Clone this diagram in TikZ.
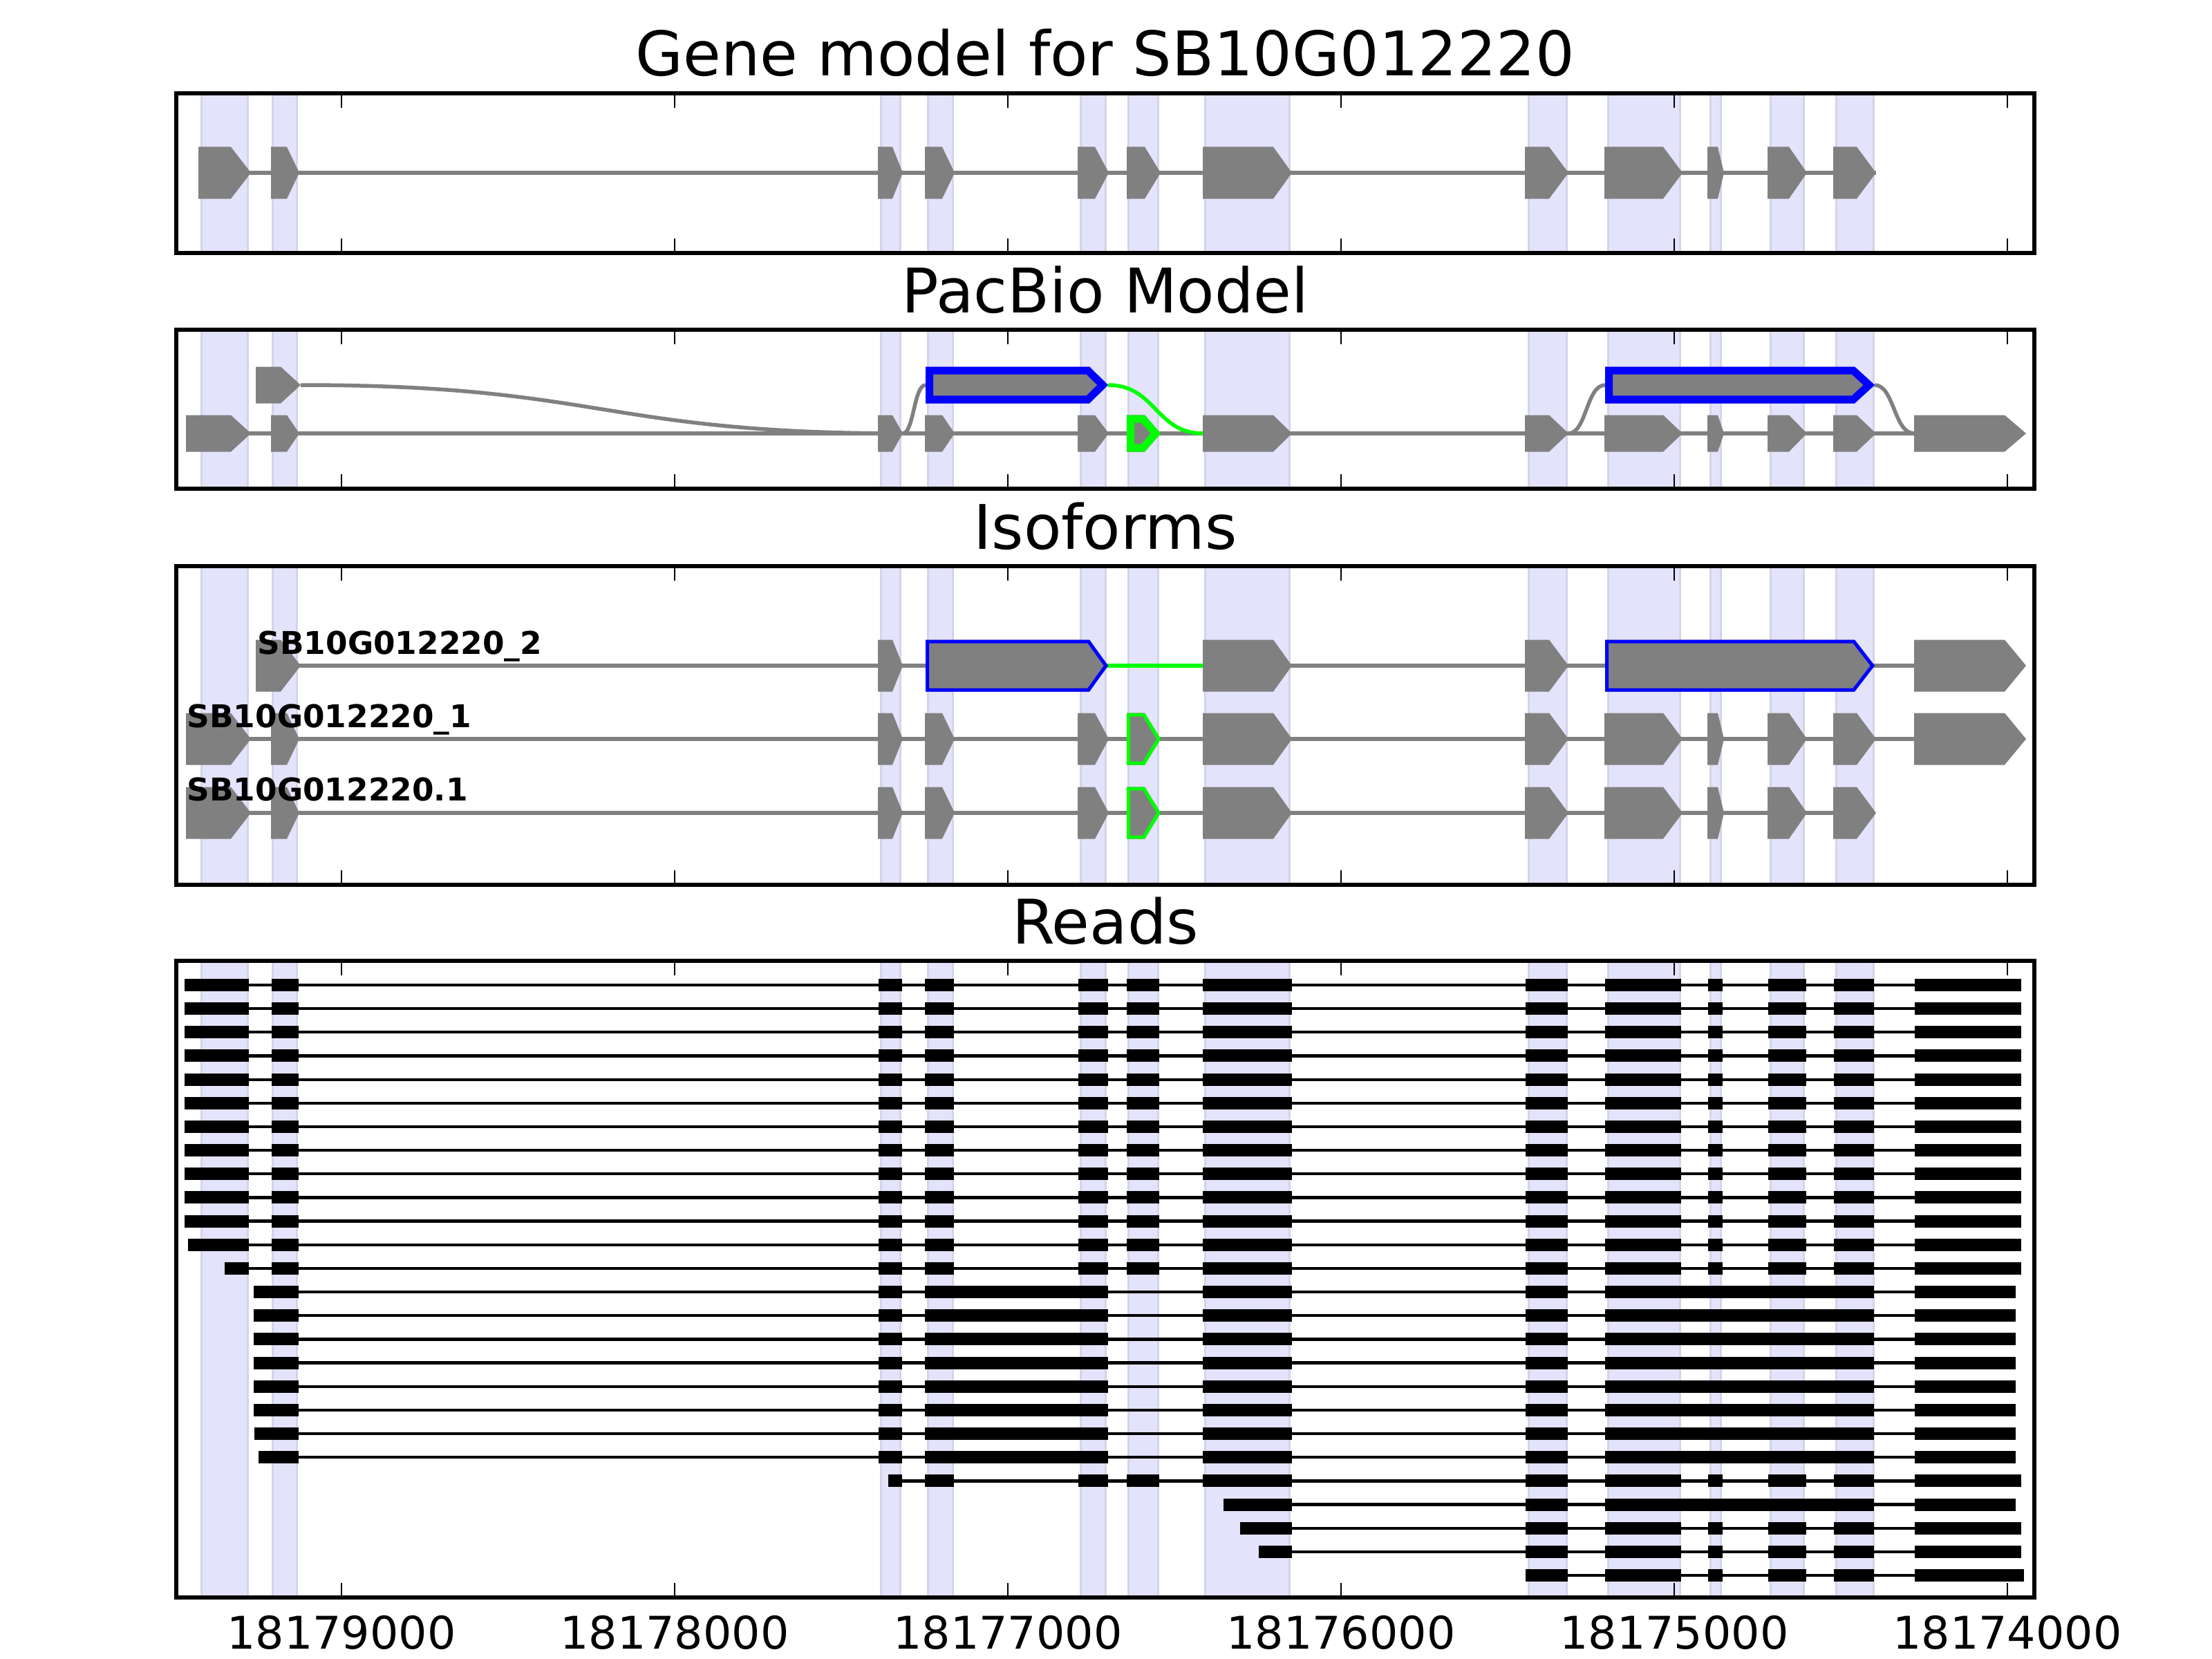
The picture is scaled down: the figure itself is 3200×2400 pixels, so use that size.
\documentclass[tikz,border=0pt]{standalone}
\usepackage{fontspec}
\setmainfont{DejaVu Sans}
\usetikzlibrary{calc}

\definecolor{spanfill}{RGB}{227,227,252}
\definecolor{spanedge}{RGB}{212,212,232}
\definecolor{exongray}{RGB}{128,128,128}
\definecolor{isoblue}{RGB}{0,0,255}
\definecolor{isogreen}{RGB}{0,255,0}

% exon arrow: start, end of box, tip, centre line, half height
\newcommand{\exonpath}[5]{(#1,#4-#5) -- (#2,#4-#5) -- (#3,#4) -- (#2,#4+#5) -- (#1,#4+#5) -- cycle}
\newcommand{\ringexon}[7]{%
  \fill[exongray] \exonpath{#3}{#4}{#5}{#6}{#7};
  \begin{scope}
    \clip \exonpath{#3}{#4}{#5}{#6}{#7};
    \draw[#1, line width=#2, line join=miter] \exonpath{#3}{#4}{#5}{#6}{#7};
  \end{scope}}
\newcommand{\axpanel}[3]{%
  \foreach \xa/\xb in {291/358,394/429,1274/1302,1342/1378,1563/1599,1632/1675,1743/1865,2211/2266,2326/2430,2474/2489,2561/2609,2656/2710}
    \filldraw[spanbox] (\xa,#1) rectangle (\xb,#2);
  \draw[axframe] (255,#1) rectangle (2943,#2);
  \foreach \tk in {0,...,5} {
    \draw[tickmark] (494+482*\tk,#1) -- ++(0,21);
    \draw[tickmark] (494+482*\tk,#2) -- ++(0,-21);
  }
  \node[paneltitle] at (1599,#1-25) {#3};}
% read: row, first block start and end, last end, other blocks
\newcommand{\readrow}[5]{%
  \draw[readline] (#2,1425+34.16*#1) -- (#4,1425+34.16*#1);
  \fill (#2,1416+34.16*#1) rectangle (#3,1434+34.16*#1);
  \foreach \xa/\xb in #5 \fill (\xa,1416+34.16*#1) rectangle (\xb,1434+34.16*#1);}

\def\geneexons{392/415/433,1270/1291/1306,1338/1363/1381,1559/1584/1604,1630/1656/1679,1740/1842/1869,2206/2241/2269,2321/2406/2434,2470/2485/2494,2557/2588/2614,2652/2686/2714}
\def\fullblocks{393/432,1271/1305,1338/1380,1560/1603,1630/1677,1740/1869,2207/2268,2322/2432,2471/2492,2558/2613,2653/2711,2770/2924}
\def\longblocks{1271/1305,1338/1603,1740/1869,2207/2268,2322/2711,2770/2916}
\def\tailblocks{2207/2268,2322/2432,2471/2492,2558/2613,2653/2711,2770/2924}

\begin{document}
\begin{tikzpicture}[x=0.01cm, y=-0.01cm,
  spanbox/.style={fill=spanfill, draw=spanedge, line width=0.3mm},
  axframe/.style={draw=black, line width=0.55mm},
  tickmark/.style={black, line width=0.28mm},
  paneltitle/.style={font=\fontsize{25.3}{30}\selectfont, anchor=base, inner sep=0pt},
  ticklabel/.style={font=\fontsize{18.5}{22}\selectfont, anchor=base, inner sep=0pt},
  isolabel/.style={font=\bfseries\fontsize{12.9}{15}\selectfont, anchor=base west, inner sep=0pt},
  intron/.style={exongray, line width=0.55mm},
  greenjoin/.style={isogreen, line width=0.55mm},
  readline/.style={black, line width=0.43mm}]

\path[use as bounding box, fill=white] (0,0) rectangle (3200,2400);

% gene model
\axpanel{135}{366}{Gene model for SB10G012220}
\draw[intron] (287,250) -- (2714,250);
\fill[exongray] \exonpath{287}{334}{363}{250}{37.5};
\foreach \xa/\xb/\xc in \geneexons
  \fill[exongray] \exonpath{\xa}{\xb}{\xc}{250}{37.5};

% pacbio model
\axpanel{477}{707}{PacBio Model}
\draw[intron] (269,627) -- (2769,627);
\draw[intron] (435,557) .. controls (871,557) and (871,627) .. (1306,627);
\draw[intron] (1306,627) .. controls (1322,627) and (1322,557) .. (1339,557);
\draw[greenjoin] (1603,557) .. controls (1672,557) and (1672,627) .. (1740,627);
\draw[intron] (2269,627) .. controls (2295,627) and (2295,557) .. (2322,557);
\draw[intron] (2712,557) .. controls (2740,557) and (2740,627) .. (2769,627);
\fill[exongray] \exonpath{269}{334}{363}{627}{26.5};
\foreach \xa/\xb/\xc in \geneexons
  \fill[exongray] \exonpath{\xa}{\xb}{\xc}{627}{26.5};
\fill[exongray] \exonpath{2769}{2900}{2931}{627}{26.5};
\fill[exongray] \exonpath{370}{406}{435}{557}{26.5};
\ringexon{isogreen}{2.2mm}{1630}{1656}{1679}{627}{26.5}
\ringexon{isoblue}{2.2mm}{1339}{1576}{1603}{557}{26.5}
\ringexon{isoblue}{2.2mm}{2322}{2683}{2712}{557}{26.5}

% isoforms
\axpanel{819}{1280}{Isoforms}
\draw[intron] (370,963) -- (2769,963);
\draw[greenjoin] (1603,963) -- (1740,963);
\foreach \xa/\xb/\xc in {370/406/435,1270/1291/1306,1740/1842/1869,2206/2241/2269,2769/2900/2931}
  \fill[exongray] \exonpath{\xa}{\xb}{\xc}{963}{37.5};
\ringexon{isoblue}{1.0mm}{1339}{1576}{1603}{963}{37.5}
\ringexon{isoblue}{1.0mm}{2322}{2683}{2712}{963}{37.5}
\draw[intron] (269,1069) -- (2769,1069);
\draw[intron] (269,1176) -- (2652,1176);
\foreach \yy in {1069,1176} {
  \fill[exongray] \exonpath{269}{334}{363}{\yy}{37.5};
  \foreach \xa/\xb/\xc in \geneexons
    \fill[exongray] \exonpath{\xa}{\xb}{\xc}{\yy}{37.5};
  \ringexon{isogreen}{1.0mm}{1630}{1656}{1679}{\yy}{37.5}
}
\fill[exongray] \exonpath{2769}{2900}{2931}{1069}{37.5};
\node[isolabel] at (372,946) {SB10G012220\_2};
\node[isolabel] at (270,1052) {SB10G012220\_1};
\node[isolabel] at (270,1158) {SB10G012220.1};

% reads
\axpanel{1390}{2311}{Reads}
\foreach \i in {0,...,10} {\readrow{\i}{267}{360}{2924}{\fullblocks}}
\readrow{11}{272}{360}{2924}{\fullblocks}
\readrow{12}{325}{360}{2924}{\fullblocks}
\foreach \i in {13,...,18} {\readrow{\i}{367}{432}{2916}{\longblocks}}
\readrow{19}{368}{432}{2916}{\longblocks}
\readrow{20}{374}{432}{2916}{\longblocks}
\readrow{21}{1285}{1305}{2924}{{1338/1380,1560/1603,1630/1677,1740/1869,2207/2268,2322/2432,2471/2492,2558/2613,2653/2711,2770/2924}}
\readrow{22}{1770}{1869}{2916}{{2207/2268,2322/2711,2770/2916}}
\readrow{23}{1794}{1869}{2924}{\tailblocks}
\readrow{24}{1821}{1869}{2924}{\tailblocks}
\readrow{25}{2207}{2268}{2928}{{2322/2432,2471/2492,2558/2613,2653/2711,2770/2928}}

\foreach \tk/\lab in {0/18179000,1/18178000,2/18177000,3/18176000,4/18175000,5/18174000}
  \node[ticklabel] at (494+482*\tk,2385) {\lab};

\end{tikzpicture}
\end{document}
